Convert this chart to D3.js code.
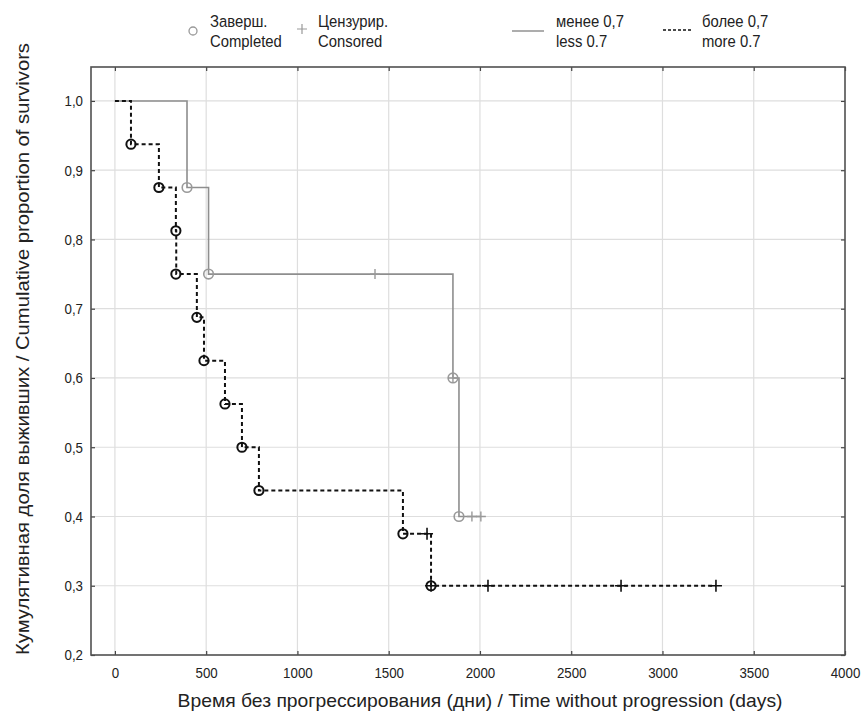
<!DOCTYPE html>
<html><head><meta charset="utf-8">
<script src="https://cdn.jsdelivr.net/npm/d3@7"></script>
<style>
body{margin:0;background:#fff;}
svg{display:block;}
text{font-family:"Liberation Sans Narrow","Arial Narrow","Liberation Sans",Arial,sans-serif;fill:#222;}
</style></head><body>
<svg id="c" width="861" height="725"></svg>
<script>
// ---- data ----
const xTicks = [0,500,1000,1500,2000,2500,3000,3500,4000];
const yTicks = [0.2,0.3,0.4,0.5,0.6,0.7,0.8,0.9,1.0];
// group "less 0.7" (gray, solid): step curve
const lowTime  = [0, 395, 513, 1852, 1885, 2005];
const lowSurv  = [1.0, 0.875, 0.75, 0.6, 0.4, 0.4];
const lowEventT = [395, 513, 1852, 1885];
const lowEventS = [0.875, 0.75, 0.6, 0.4];
const lowCensT = [1425, 1852, 1956, 2005];
const lowCensS = [0.75, 0.6, 0.4, 0.4];
// group "more 0.7" (black, dashed)
const highTime = [0, 88, 241, 334, 336, 449, 488, 603, 696, 789, 1578, 1732, 3293];
const highSurv = [1.0, 0.9375, 0.875, 0.8125, 0.75, 0.6875, 0.625, 0.5625, 0.5, 0.4375, 0.375, 0.3, 0.3];
const highEventT = [88, 241, 334, 334, 449, 488, 603, 696, 789, 1578, 1732];
const highEventS = [0.9375, 0.875, 0.8125, 0.75, 0.6875, 0.625, 0.5625, 0.5, 0.4375, 0.375, 0.3];
const highCensT = [1710, 1732, 2044, 2773, 3293];
const highCensS = [0.375, 0.3, 0.3, 0.3, 0.3];

const legendItems = [
  {type:"circle", l1:"Заверш.", l2:"Completed"},
  {type:"plus", l1:"Цензурир.", l2:"Consored"},
  {type:"solid", l1:"менее 0,7", l2:"less 0.7"},
  {type:"dashed", l1:"более 0,7", l2:"more 0.7"}
];

// ---- layout ----
const svg = d3.select("#c");
const L=91, R=845, T=67, B=655;
const x = d3.scaleLinear().domain([-131, 4000]).range([L, R]);
const y = d3.scaleLinear().domain([0.2, 1.049]).range([B, T]);
const fmtY = d => d3.format(".1f")(d).replace(".", ",");
const SX = 0.86; // horizontal condensing to mimic a narrow font

// grid
const g = svg.append("g");
g.selectAll(".gx").data(xTicks.filter(d=>d<4000)).join("line")
  .attr("x1",d=>x(d)).attr("x2",d=>x(d)).attr("y1",T).attr("y2",B)
  .attr("stroke","#dedede").attr("stroke-width",1.2);
g.selectAll(".gy").data(yTicks.filter(d=>d>0.2)).join("line")
  .attr("x1",L).attr("x2",R).attr("y1",d=>y(d)).attr("y2",d=>y(d))
  .attr("stroke","#dedede").attr("stroke-width",1.2);

// axes with inward ticks
const axB = d3.axisBottom(x).tickValues(xTicks).tickSize(-4).tickPadding(12).tickFormat(d3.format("d"));
const axT = d3.axisTop(x).tickValues(xTicks).tickSize(-4).tickFormat("");
const axL = d3.axisLeft(y).tickValues(yTicks).tickSize(-4).tickPadding(8).tickFormat(fmtY);
const axR = d3.axisRight(y).tickValues(yTicks).tickSize(-4).tickFormat("");
function style(sel){
  sel.select(".domain").remove();
  sel.selectAll(".tick line").attr("stroke","#444").attr("stroke-width",1.2);
  sel.selectAll(".tick text").attr("font-size",15.5).attr("fill","#222")
    .each(function(){
      const t = d3.select(this);
      const xv = +t.attr("x") || 0;
      t.attr("x", xv / SX).attr("transform", `scale(${SX},1)`);
    });
}
svg.append("g").attr("transform",`translate(0,${B})`).call(axB).call(style);
svg.append("g").attr("transform",`translate(0,${T})`).call(axT).call(style);
svg.append("g").attr("transform",`translate(${L},0)`).call(axL).call(style);
svg.append("g").attr("transform",`translate(${R},0)`).call(axR).call(style);

// frame
svg.append("rect").attr("x",L).attr("y",T).attr("width",R-L).attr("height",B-T)
  .attr("fill","none").attr("stroke","#505050").attr("stroke-width",1.6);

// step lines
const line = d3.line().curve(d3.curveStepAfter).x(d=>x(d[0])).y(d=>y(d[1]));
svg.append("path").datum(d3.zip(lowTime, lowSurv)).attr("d", line)
  .attr("fill","none").attr("stroke","#8e8e8e").attr("stroke-width",1.6);
svg.append("path").datum(d3.zip(highTime, highSurv)).attr("d", line)
  .attr("fill","none").attr("stroke","#111").attr("stroke-width",2).attr("stroke-dasharray","4,3");

// markers
function plus(sel, data, col, h, w){
  sel.append("g").selectAll("path").data(data).join("path")
    .attr("d", d=>`M${x(d[0])-h},${y(d[1])}H${x(d[0])+h}M${x(d[0])},${y(d[1])-h}V${y(d[1])+h}`)
    .attr("stroke",col).attr("stroke-width",w).attr("fill","none");
}
function circ(sel, data, col, r, w){
  sel.append("g").selectAll("circle").data(data).join("circle")
    .attr("cx",d=>x(d[0])).attr("cy",d=>y(d[1])).attr("r",r)
    .attr("fill","none").attr("stroke",col).attr("stroke-width",w);
}
circ(svg, d3.zip(lowEventT, lowEventS), "#999", 4.8, 1.6);
plus(svg, d3.zip(lowCensT, lowCensS), "#999", 5, 1.4);
circ(svg, d3.zip(highEventT, highEventS), "#111", 4.6, 2);
plus(svg, d3.zip(highCensT, highCensS), "#111", 6, 1.6);

// axis titles
svg.append("text").attr("x",480).attr("y",707).attr("text-anchor","middle")
  .attr("font-size",19).attr("textLength",605).attr("lengthAdjust","spacingAndGlyphs")
  .text("Время без прогрессирования (дни) / Time without progression (days)");
svg.append("text").attr("transform","translate(29,349) rotate(-90)").attr("text-anchor","middle")
  .attr("font-size",19).attr("textLength",612).attr("lengthAdjust","spacingAndGlyphs")
  .text("Кумулятивная доля выживших / Cumulative proportion of survivors");

// legend
const legX = [193, 302, 528, 678];
const txtX = [210, 318, 556, 702];
const lg = svg.append("g");
legendItems.forEach((it,i)=>{
  const cx = legX[i], cy = 31;
  if(it.type==="circle") lg.append("circle").attr("cx",cx).attr("cy",cy).attr("r",4).attr("fill","none").attr("stroke","#999").attr("stroke-width",1.3);
  if(it.type==="plus") lg.append("path").attr("d",`M${cx-5},${cy-2}H${cx+5}M${cx},${cy-7}V${cy+3}`).attr("stroke","#999").attr("stroke-width",1.2);
  if(it.type==="solid") lg.append("line").attr("x1",cx-16).attr("x2",cx+16).attr("y1",cy).attr("y2",cy).attr("stroke","#999").attr("stroke-width",1.6);
  if(it.type==="dashed") lg.append("line").attr("x1",cx-15).attr("x2",cx+15).attr("y1",cy-1).attr("y2",cy-1).attr("stroke","#111").attr("stroke-width",1.6).attr("stroke-dasharray","3,2");
  [it.l1, it.l2].forEach((s,j)=>{
    lg.append("text").attr("x",txtX[i]/0.9).attr("y",27+j*20).attr("font-size",16.5)
      .attr("transform","scale(0.9,1)").text(s);
  });
});
</script></body></html>
